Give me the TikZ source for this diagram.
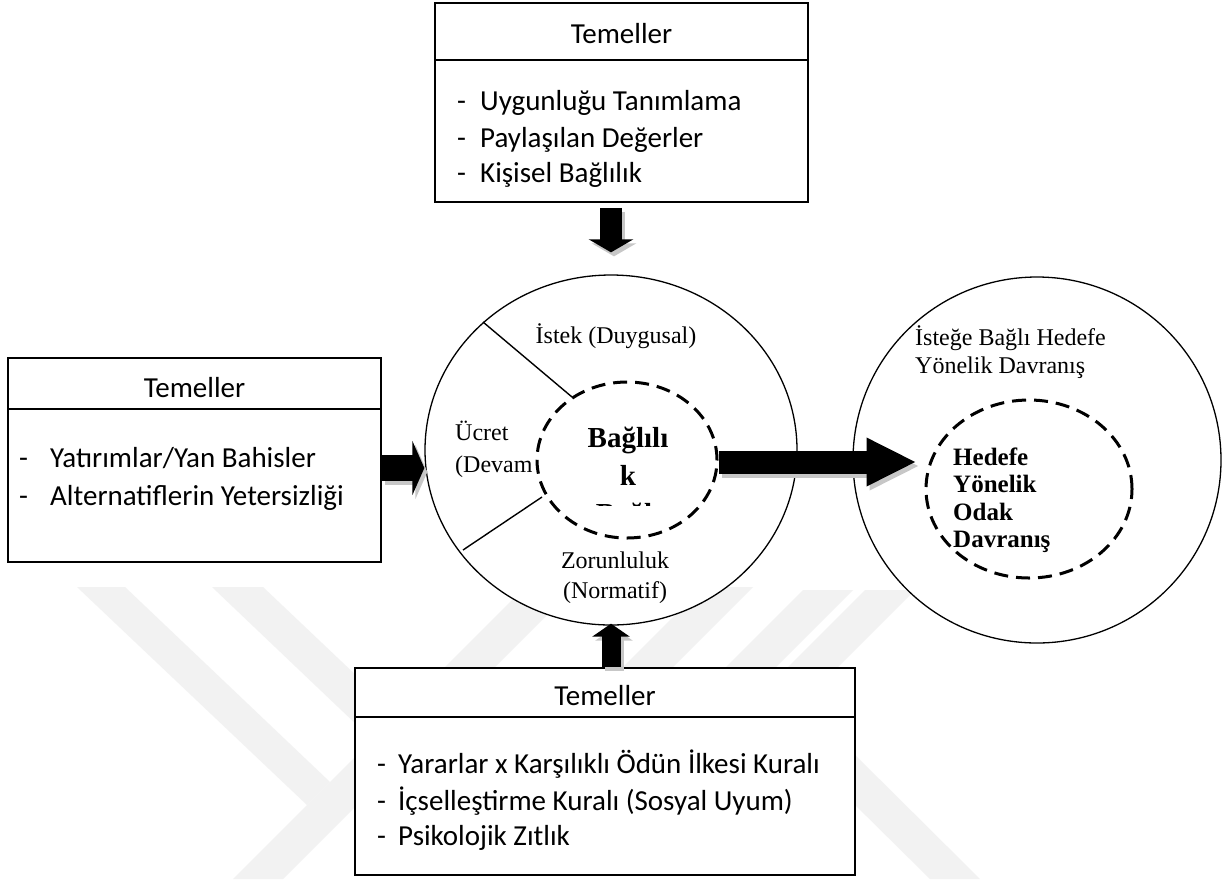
\documentclass[tikz,border=0pt]{standalone}
\usepackage{fontspec}
\setmainfont{Liberation Serif}
\newfontfamily\calibri{Carlito}
\usetikzlibrary{arrows.meta,shapes.geometric}

\tikzset{
  panel/.style={draw, line width=1.6pt, fill=white, inner sep=0pt},
  rulerline/.style={line width=1.6pt},
  boxhead/.style={font=\calibri\fontsize{29}{35}\selectfont, anchor=base, inner sep=0pt},
  boxitem/.style={font=\calibri\fontsize{29}{35}\selectfont, anchor=base west, inner sep=0pt},
  ring/.style={ellipse, draw, line width=1.3pt, fill=white, inner sep=0pt},
  core/.style={ellipse, draw, line width=3pt, dash pattern=on 14pt off 8pt, fill=white, inner sep=0pt},
  divider/.style={line width=1.4pt},
  serif/.style={font=\fontsize{24}{29}\selectfont, inner sep=0pt},
  goaltext/.style={font=\fontsize{24}{29}\selectfont, inner sep=0pt, anchor=base west},
  corebold/.style={font=\bfseries\fontsize{29}{35}\selectfont, inner sep=0pt, anchor=base},
  goalbold/.style={font=\bfseries\fontsize{25}{28}\selectfont, inner sep=0pt, anchor=base west},
  wm/.style={fill=black!5},
  blockarrow/.style n args={3}{line width=#1, -{Triangle[length=#3 0 0, width=#2 0 0]}},
  arrowshade/.style={draw=black!22, transform canvas={shift={(3pt,-4pt)}}},
  arrowink/.style={draw=black},
}

\begin{document}
\begin{tikzpicture}[x=1pt,y=-1pt]
\useasboundingbox (0,0) rectangle (1225,879);
\fill[white] (0,0) rectangle (1225,879);

% faint striped background mark
\fill[wm] (77,587) -- (125,587) -- (330,782) -- (307,805) -- cycle;
\fill[wm] (212,587) -- (263,587) -- (400,717) -- (400,766) -- cycle;
\fill[wm] (233,879) -- (283,879) -- (575,587) -- (525,587) -- cycle;
\fill[wm] (622,668) -- (672,668) -- (753,587) -- (703,587) -- cycle;
\fill[wm] (803,590) -- (853,590) -- (743,700) -- (693,700) -- cycle;
\fill[wm] (865,590) -- (915,590) -- (805,700) -- (755,700) -- cycle;
\fill[wm] (845,745) -- (980,879) -- (930,879) -- (845,795) -- cycle;

% top panel
\node[panel, minimum width=373pt, minimum height=199pt] (topbox) at (621.5,102.5) {};
\draw[rulerline] (topbox.west |- 0,60) -- (topbox.east |- 0,60);
\node[boxhead] (tophead) at (621.5,43) {Temeller};
\node[boxitem] (topa) at (457,110) {\makebox[23pt][l]{-}Uygunluğu Tanımlama};
\node[boxitem] (topb) at (457,147) {\makebox[23pt][l]{-}Paylaşılan Değerler};
\node[boxitem] (topc) at (457,182) {\makebox[23pt][l]{-}Kişisel Bağlılık};

% left panel
\node[panel, minimum width=373pt, minimum height=204pt] (leftbox) at (194.5,460) {};
\draw[rulerline] (leftbox.west |- 0,409) -- (leftbox.east |- 0,409);
\node[boxhead] (lefthead) at (194.5,397) {Temeller};
\node[boxitem] (lefta) at (19,467) {\makebox[31pt][l]{-}Yatırımlar/Yan Bahisler};
\node[boxitem] (leftb) at (19,505) {\makebox[31pt][l]{-}Alternatiflerin Yetersizliği};

% bottom panel
\node[panel, minimum width=500pt, minimum height=207pt] (botbox) at (605,771.5) {};
\draw[rulerline] (botbox.west |- 0,717) -- (botbox.east |- 0,717);
\node[boxhead] (bothead) at (605,705) {Temeller};
\node[boxitem] (bota) at (377,773) {\makebox[21pt][l]{-}Yararlar x Karşılıklı Ödün İlkesi Kuralı};
\node[boxitem] (botb) at (377,810) {\makebox[21pt][l]{-}İçselleştirme Kuralı (Sosyal Uyum)};
\node[boxitem] (botc) at (377,845) {\makebox[21pt][l]{-}Psikolojik Zıtlık};

% commitment circle
\node[ring, minimum width=372pt, minimum height=350pt] (ctr) at (611,450) {};
\draw[divider] (483,322) -- (572,397);
\draw[divider] (463,550) -- (542,497);
\node[serif, anchor=base] (wish) at (616,343) {İstek (Duygusal)};
\node[serif, anchor=base west] (costa) at (455,440) {Ücret};
\node[serif, anchor=base west] (costb) at (455,472) {(Devam};
\node[serif, anchor=base] (musta) at (615,568) {Zorunluluk};
\begin{scope}
  \clip (500,572) rectangle (720,602);
  \node[serif, anchor=base] (mustb) at (615,598) {(Normatif)};
\end{scope}
\node[core, minimum width=180pt, minimum height=156pt] (ctrcore) at (627,460) {};
\node[corebold] (corea) at (628,447) {Bağlılı};
\node[corebold] (coreb) at (628,485) {k};
\begin{scope}
  \clip (540,490) rectangle (720,505);
  \node[corebold] (corec) at (628,523) {Bağlı};
\end{scope}

% behaviour circle
\node[ring, minimum width=368pt, minimum height=366pt] (goal) at (1037,460) {};
\node[goaltext] (goala) at (915,345) {İsteğe Bağlı Hedefe};
\node[goaltext] (goalb) at (915,373) {Yönelik Davranış};
\node[core, minimum width=206pt, minimum height=178pt] (goalcore) at (1029,489) {};
\node[goalbold] (focusa) at (953,465) {Hedefe};
\node[goalbold] (focusb) at (953,492) {Yönelik};
\node[goalbold] (focusc) at (953,520) {Odak};
\node[goalbold] (focusd) at (953,547) {Davranış};

% block arrows (shadow first, then black)
\foreach \shade in {arrowshade, arrowink} {
  \draw[blockarrow={22pt}{44pt}{13pt}, \shade, shorten <=5pt, shorten >=22pt]
    (topbox.south -| ctr.north) -- (ctr.north);
  \draw[blockarrow={26pt}{54pt}{12pt}, \shade]
    ([yshift=-8pt]leftbox.east) -- ([yshift=-8pt]leftbox.east -| ctr.west);
  \draw[blockarrow={19pt}{37pt}{13pt}, \shade, shorten >=-2pt]
    (botbox.north -| ctr.south) -- (ctr.south);
  \draw[blockarrow={23pt}{45pt}{50pt}, \shade, shorten >=8pt]
    ([yshift=-2pt]ctrcore.east) -- ([yshift=-2pt]ctrcore.east -| goalcore.west);
}
\end{tikzpicture}
\end{document}
